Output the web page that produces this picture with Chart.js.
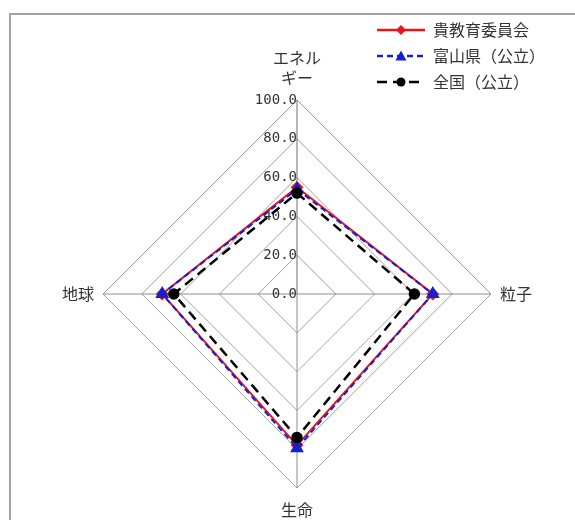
<!DOCTYPE html>
<html lang="ja">
<head>
<meta charset="utf-8">
<title>レーダーチャート</title>
<script src="https://cdn.jsdelivr.net/npm/chart.js@4/dist/chart.umd.min.js"></script>
<style>
  html, body { margin: 0; padding: 0; overflow: hidden; background: #fff; }
  .frame {
    position: absolute; left: 9px; top: 13px; width: 600px; height: 600px;
    border-top: 2px solid #a3a3a3; border-left: 2px solid #a3a3a3;
  }
  #radar { position: absolute; left: 0; top: 0; }
</style>
</head>
<body>
<div class="frame"></div>
<canvas id="radar" width="575" height="545"></canvas>
<script>
// 領域（エネルギーは2行で表示）
const categories = [["エネル", "ギー"], "粒子", "生命", "地球"];
const seriesNames = ["貴教育委員会", "富山県（公立）", "全国（公立）"];
const boardValues = [55.0, 70.0, 78.0, 69.5];
const toyamaValues = [54.0, 70.0, 79.5, 69.5];
const nationalValues = [52.0, 60.5, 74.0, 63.5];
const scaleMax = 100;
const scaleStep = 20;

const JP = "'Noto Sans CJK JP', 'Noto Sans', sans-serif";

// 凡例用の線＋マーカー画像
function legendIcon(color, dash, marker) {
  const c = document.createElement("canvas");
  c.width = 48;
  c.height = 14;
  const g = c.getContext("2d");
  g.strokeStyle = color;
  g.fillStyle = color;
  g.lineWidth = 2.5;
  g.setLineDash(dash);
  g.beginPath();
  g.moveTo(0, 7);
  g.lineTo(48, 7);
  g.stroke();
  g.setLineDash([]);
  g.beginPath();
  if (marker === "rectRot") {
    g.moveTo(24, 2); g.lineTo(29, 7); g.lineTo(24, 12); g.lineTo(19, 7);
  } else if (marker === "triangle") {
    g.moveTo(24, 1.5); g.lineTo(29.5, 11.5); g.lineTo(18.5, 11.5);
  } else {
    g.arc(24, 7, 4.5, 0, Math.PI * 2);
  }
  g.closePath();
  g.fill();
  return c;
}

const icons = [
  legendIcon("#e8141c", [], "rectRot"),
  legendIcon("#1420d0", [6, 4], "triangle"),
  legendIcon("#000000", [10, 6], "circle"),
];

// 凡例を右上に置く
const legendSpot = {
  id: "legendSpot",
  afterLayout(chart) {
    const lg = chart.legend;
    lg.left = 367;
    lg.right = 575;
    lg.top = 12;
    lg.bottom = 112;
  },
};

new Chart(document.getElementById("radar"), {
  type: "radar",
  data: {
    labels: categories,
    datasets: [
      {
        label: seriesNames[0],
        data: boardValues,
        order: 3,
        borderColor: "#e8141c",
        backgroundColor: "#e8141c",
        borderWidth: 2,
        pointStyle: "rectRot",
        pointRadius: 5,
        fill: false,
      },
      {
        label: seriesNames[1],
        data: toyamaValues,
        order: 2,
        borderColor: "#1420d0",
        backgroundColor: "#1420d0",
        borderWidth: 2,
        borderDash: [6, 4],
        pointStyle: "triangle",
        pointRadius: 6,
        fill: false,
      },
      {
        label: seriesNames[2],
        data: nationalValues,
        order: 1,
        borderColor: "#000000",
        backgroundColor: "#000000",
        borderWidth: 2.5,
        borderDash: [10, 6],
        pointStyle: "circle",
        pointRadius: 4.5,
        fill: false,
      },
    ],
  },
  options: {
    responsive: false,
    animation: false,
    layout: { padding: { left: 62, right: 43, top: 38, bottom: 15 } },
    elements: { line: { tension: 0 } },
    scales: {
      r: {
        min: -0.001,
        max: scaleMax,
        ticks: {
          stepSize: scaleStep,
          showLabelBackdrop: false,
          color: "#333",
          font: { family: "'DejaVu Sans Mono', monospace", size: 14 },
          // 軸の左側に右寄せ（等幅フォントの空白で寄せる）
          callback: function (v) {
            const s = (Math.abs(v) < 0.01 ? 0 : v).toFixed(1);
            return s + " ".repeat(s.length);
          },
        },
        grid: { color: "#a0a0a0", lineWidth: 1 },
        angleLines: {
          color: function (ctx) {
            return ctx.index === 0 ? "#707070" : "#8c8c8c";
          },
          lineWidth: 1,
        },
        pointLabels: {
          color: "#333",
          font: { family: JP, size: 16, lineHeight: 1.25 },
          padding: function (ctx) {
            return ctx.index % 2 === 0 ? 3 : 0;
          },
        },
      },
    },
    plugins: {
      tooltip: { enabled: false },
      legend: {
        position: "chartArea",
        align: "start",
        labels: {
          usePointStyle: true,
          pointStyleWidth: 48,
          padding: 10,
          color: "#333",
          font: { family: JP, size: 16 },
          sort: function (a, b) {
            return a.datasetIndex - b.datasetIndex;
          },
          generateLabels: function (chart) {
            const items = Chart.defaults.plugins.legend.labels.generateLabels(chart);
            items.forEach(function (it) {
              it.pointStyle = icons[it.datasetIndex];
            });
            return items;
          },
        },
      },
    },
  },
  plugins: [legendSpot],
});
</script>
</body>
</html>
